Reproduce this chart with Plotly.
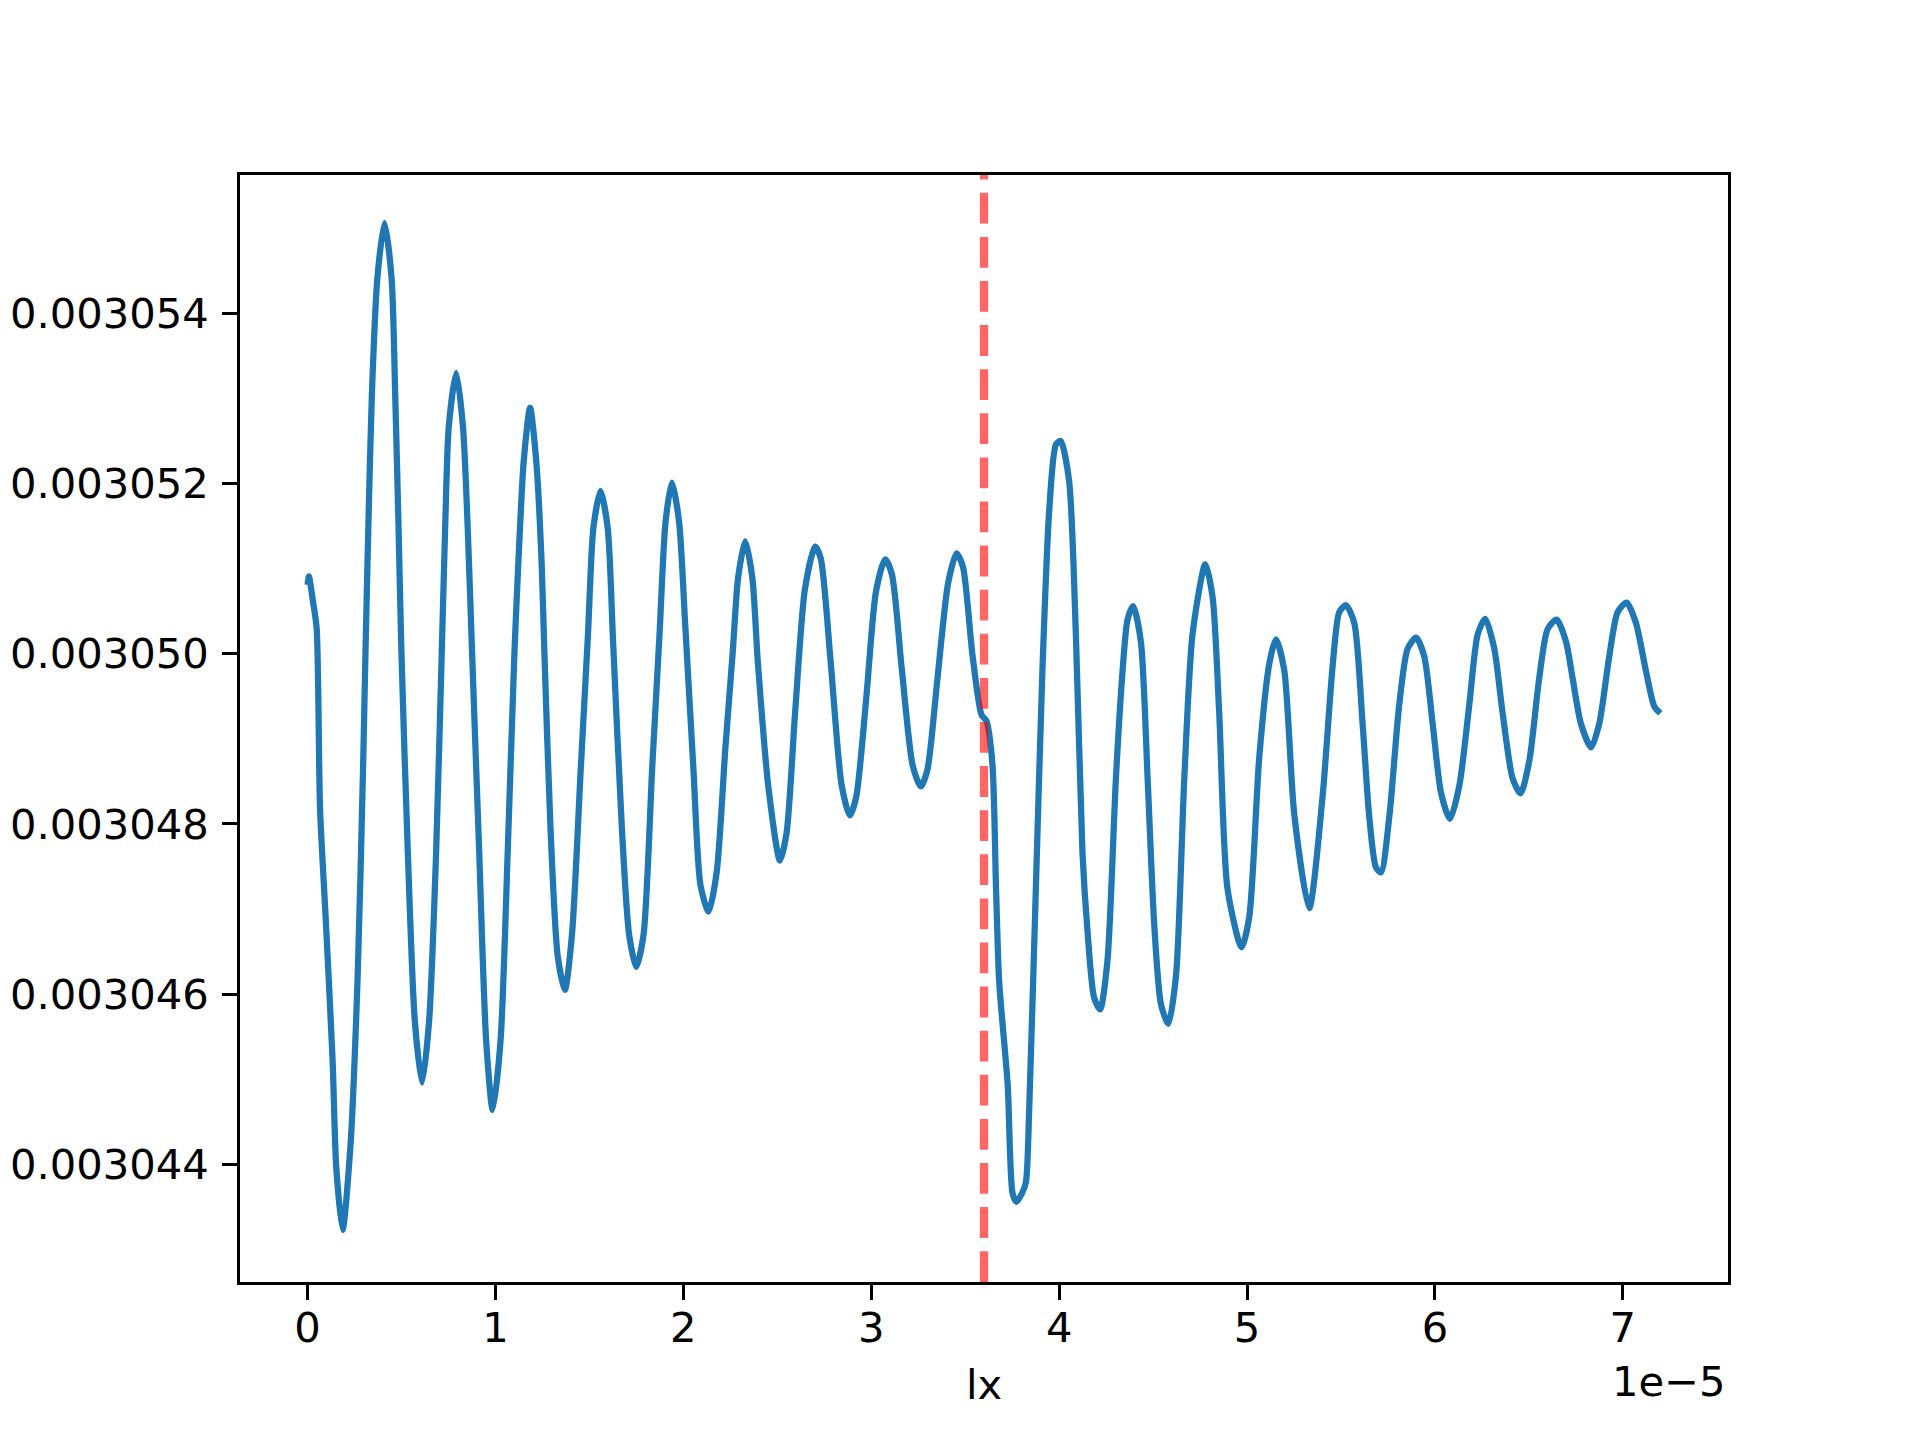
import plotly.graph_objects as go

# x positions in units of 1e-5 (as shown by the axis offset label)
lx_e5 = [
    0, 0.0065, 0.028, 0.048, 0.066, 0.095, 0.133, 0.152, 0.186, 0.228,
    0.266, 0.295, 0.308, 0.323, 0.342, 0.371, 0.409, 0.447, 0.466, 0.484,
    0.499, 0.533, 0.570, 0.609, 0.647, 0.684, 0.714, 0.732, 0.751, 0.791,
    0.827, 0.852, 0.875, 0.913, 0.950, 0.985, 1.027, 1.065, 1.101, 1.122,
    1.150, 1.184, 1.217, 1.245, 1.260, 1.293, 1.331, 1.369, 1.407, 1.454,
    1.492, 1.521, 1.559, 1.597, 1.626, 1.673, 1.711, 1.749, 1.788, 1.834,
    1.873, 1.905, 1.939, 1.977, 2.010, 2.053, 2.091, 2.134, 2.177, 2.224,
    2.263, 2.291, 2.329, 2.367, 2.396, 2.453, 2.514, 2.549, 2.595, 2.647,
    2.701, 2.731, 2.784, 2.842, 2.886, 2.920, 2.973, 3.025, 3.074, 3.110,
    3.162, 3.221, 3.264, 3.299, 3.351, 3.409, 3.454, 3.488, 3.539, 3.587,
    3.613, 3.645, 3.664, 3.681, 3.726, 3.752, 3.773, 3.802, 3.823, 3.841,
    3.876, 3.911, 3.947, 3.983, 4.008, 4.053, 4.089, 4.124, 4.151, 4.186,
    4.218, 4.257, 4.302, 4.338, 4.364, 4.394, 4.435, 4.471, 4.506, 4.542,
    4.581, 4.622, 4.666, 4.710, 4.778, 4.817, 4.852, 4.896, 4.971, 5.012,
    5.065, 5.119, 5.154, 5.198, 5.252, 5.331, 5.402, 5.455, 5.491, 5.527,
    5.571, 5.615, 5.650, 5.686, 5.713, 5.758, 5.810, 5.855, 5.900, 5.943,
    5.988, 6.033, 6.080, 6.130, 6.183, 6.228, 6.268, 6.316, 6.360, 6.414,
    6.456, 6.503, 6.555, 6.600, 6.648, 6.698, 6.733, 6.777, 6.831, 6.875,
    6.928, 6.973, 7.021, 7.070, 7.124, 7.168, 7.2,
]

values = [
    0.00305081, 0.00305091, 0.00305062, 0.00305030, 0.00304818, 0.00304694, 0.00304522, 0.00304398, 0.00304323, 0.00304422,
    0.00304619, 0.00304866, 0.00305003, 0.00305148, 0.00305305, 0.00305441, 0.00305506, 0.00305441, 0.00305305, 0.00305148,
    0.00305003, 0.00304768, 0.00304570, 0.00304496, 0.00304570, 0.00304768, 0.00305003, 0.00305148, 0.00305266, 0.00305330,
    0.00305266, 0.00305148, 0.00305003, 0.00304768, 0.00304546, 0.00304464, 0.00304546, 0.00304768, 0.00305003, 0.00305109,
    0.00305226, 0.00305289, 0.00305226, 0.00305109, 0.00305003, 0.00304793, 0.00304645, 0.00304605, 0.00304670, 0.00304866,
    0.00305022, 0.00305148, 0.00305191, 0.00305148, 0.00305013, 0.00304793, 0.00304670, 0.00304632, 0.00304670, 0.00304866,
    0.00305023, 0.00305155, 0.00305201, 0.00305155, 0.00305033, 0.00304866, 0.00304728, 0.00304697, 0.00304743, 0.00304891,
    0.00305003, 0.00305089, 0.00305132, 0.00305089, 0.00304991, 0.00304842, 0.00304757, 0.00304789, 0.00304932, 0.00305076,
    0.00305126, 0.00305112, 0.00304990, 0.00304846, 0.00304810, 0.00304832, 0.00304947, 0.00305073, 0.00305111, 0.00305093,
    0.00304983, 0.00304868, 0.00304844, 0.00304864, 0.00304968, 0.00305083, 0.00305118, 0.00305102, 0.00304998, 0.00304928,
    0.00304921, 0.00304870, 0.00304725, 0.00304614, 0.00304494, 0.00304366, 0.00304356, 0.00304366, 0.00304379, 0.00304468,
    0.00304724, 0.00304981, 0.00305168, 0.00305246, 0.00305250, 0.00305203, 0.00305023, 0.00304767, 0.00304674, 0.00304596,
    0.00304582, 0.00304639, 0.00304853, 0.00304981, 0.00305040, 0.00305056, 0.00305014, 0.00304853, 0.00304682, 0.00304588,
    0.00304565, 0.00304622, 0.00304853, 0.00305023, 0.00305105, 0.00305066, 0.00304930, 0.00304724, 0.00304655, 0.00304691,
    0.00304878, 0.00304989, 0.00305017, 0.00304981, 0.00304810, 0.00304701, 0.00304832, 0.00304984, 0.00305049, 0.00305057,
    0.00305036, 0.00304918, 0.00304810, 0.00304749, 0.00304743, 0.00304810, 0.00304940, 0.00305006, 0.00305019, 0.00304997,
    0.00304918, 0.00304836, 0.00304806, 0.00304845, 0.00304940, 0.00305023, 0.00305041, 0.00305006, 0.00304931, 0.00304853,
    0.00304836, 0.00304875, 0.00304971, 0.00305029, 0.00305040, 0.00305014, 0.00304971, 0.00304918, 0.00304890, 0.00304918,
    0.00304997, 0.00305049, 0.00305060, 0.00305036, 0.00304979, 0.00304938, 0.00304930,
]

marker_x_e5 = 3.6  # vertical dashed marker position (units of 1e-5)

x_tick_values_e5 = [0, 1, 2, 3, 4, 5, 6, 7]
x_tick_labels = ["0", "1", "2", "3", "4", "5", "6", "7"]
y_tick_values = [0.003044, 0.003046, 0.003048, 0.003050, 0.003052, 0.003054]
y_tick_labels = ["0.003044", "0.003046", "0.003048", "0.003050", "0.003052", "0.003054"]

SCALE = 1e-5
xs = [v * SCALE for v in lx_e5]

FONT = "DejaVu Sans"
FS = 41.7
LW_AX = 3.33

fig = go.Figure()
fig.add_trace(go.Scatter(
    x=xs, y=values, mode="lines",
    line=dict(color="#1f77b4", width=6.25, shape="spline", smoothing=0.7),
    showlegend=False, hoverinfo="skip",
))

fig.add_shape(type="line", xref="x", yref="paper",
              x0=marker_x_e5 * SCALE, x1=marker_x_e5 * SCALE, y0=0, y1=1,
              line=dict(color="rgba(255,0,0,0.6)", width=8.33, dash="30.8px,13.3px"),
              layer="above")

axis_common = dict(
    showline=True, linecolor="black", linewidth=LW_AX, mirror=True,
    ticks="outside", ticklen=14.6, tickwidth=LW_AX, tickcolor="black",
    showgrid=False, zeroline=False, automargin=False,
    tickfont=dict(family=FONT, size=FS, color="black"),
)

fig.update_xaxes(
    range=[-0.36 * SCALE, 7.56 * SCALE],
    tickmode="array",
    tickvals=[v * SCALE for v in x_tick_values_e5],
    ticktext=x_tick_labels,
    ticklabelstandoff=-8,
    **axis_common,
)
fig.update_yaxes(
    range=[0.00305 - 7.382e-6, 0.00305 + 5.625e-6],
    tickmode="array",
    tickvals=y_tick_values,
    ticktext=y_tick_labels,
    ticklabelstandoff=5,
    **axis_common,
)

fig.add_annotation(text="lx", xref="paper", yref="paper", x=0.5, y=0,
                   xanchor="center", yanchor="middle", yshift=-102,
                   showarrow=False, font=dict(family=FONT, size=FS, color="black"))
fig.add_annotation(text="1e\u22125", xref="paper", yref="paper", x=1, y=0,
                   xanchor="right", yanchor="middle", yshift=-99,
                   showarrow=False, font=dict(family=FONT, size=FS, color="black"))

fig.update_layout(
    width=1920, height=1440,
    margin=dict(l=240, r=192, t=175, b=158, pad=0),
    paper_bgcolor="white", plot_bgcolor="white",
    font=dict(family=FONT, size=FS, color="black"),
)

fig.write_html("out.html", config={"displayModeBar": False},
               post_script="document.body.style.margin='0';")
